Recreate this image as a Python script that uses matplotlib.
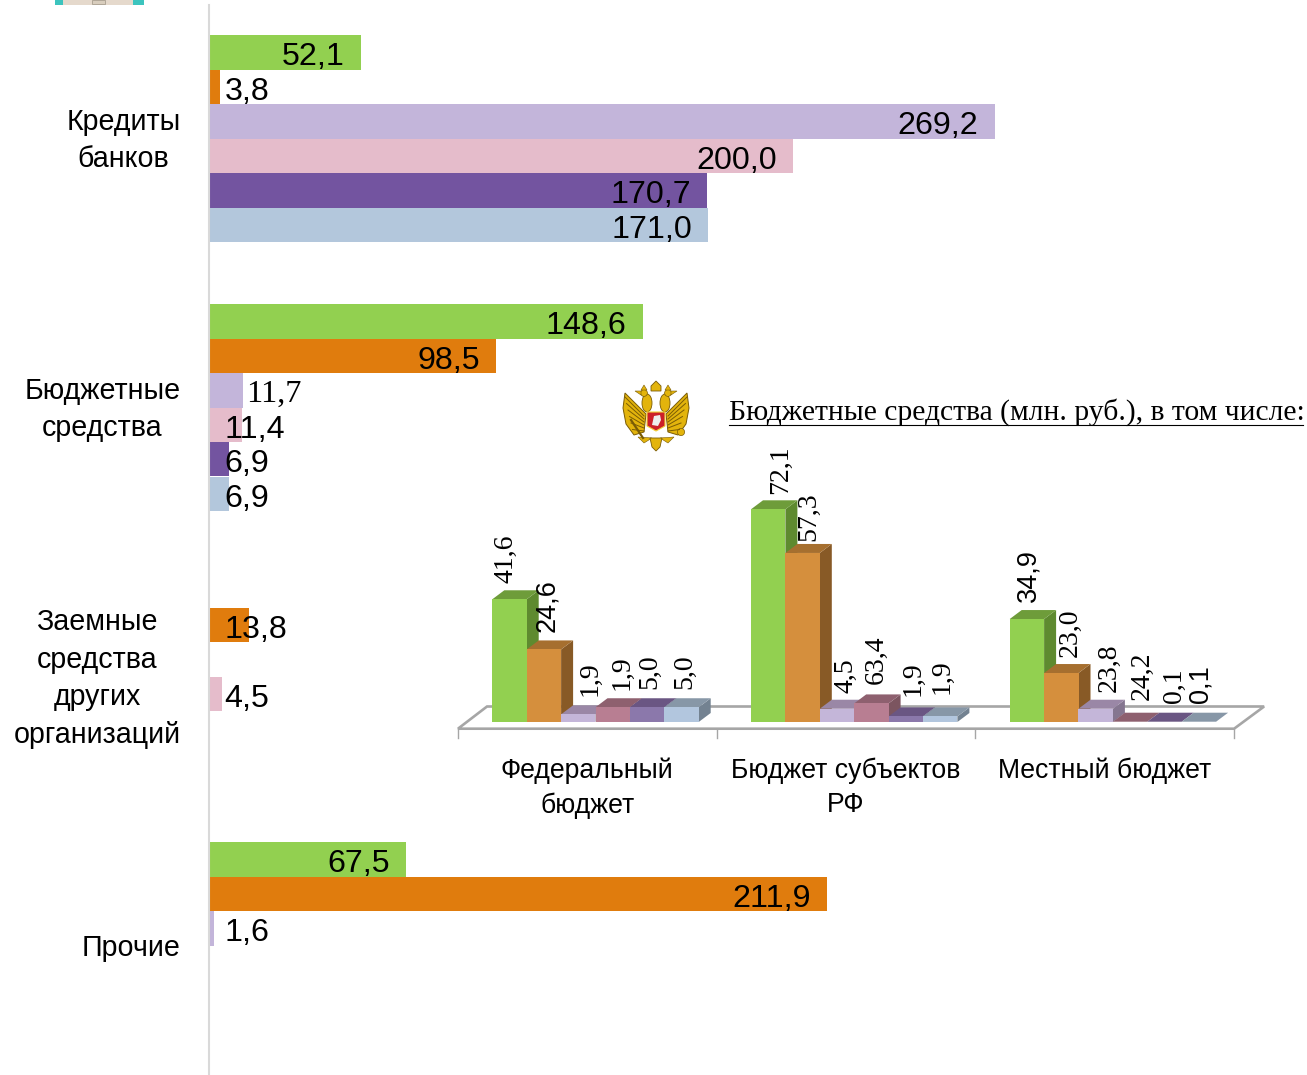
import numpy as np
import matplotlib
matplotlib.use("Agg")
import matplotlib.pyplot as plt
from matplotlib.patches import Polygon, Rectangle, Circle, Ellipse
from matplotlib.transforms import ScaledTranslation

W, H = 1307, 1075
SANS = "Liberation Sans"
SERIF = "Liberation Serif"

# ---------- main horizontal chart data ----------
categories = ["Кредиты\nбанков", "Бюджетные\nсредства", "Заемные\nсредства\nдругих\nорганизаций", "Прочие"]
nan = float("nan")
series_1 = [52.1, 148.6, nan, 67.5]
series_2 = [3.8, 98.5, 13.8, 211.9]
series_3 = [269.2, 11.7, nan, 1.6]
series_4 = [200.0, 11.4, 4.5, nan]
series_5 = [170.7, 6.9, nan, nan]
series_6 = [171.0, 6.9, nan, nan]
main_series = [series_1, series_2, series_3, series_4, series_5, series_6]
main_colors = ["#92D050", "#E07C0D", "#C3B5DA", "#E5BCCB", "#7354A0", "#B3C7DC"]

# ---------- inset 3D chart data ----------
inset_categories = ["Федеральный\nбюджет", "Бюджет субъектов\nРФ", "Местный бюджет"]
inset_heights = [
    [41.6, 24.6, 2.6, 5.0, 5.0, 5.0],
    [72.1, 57.3, 4.5, 6.3, 1.9, 1.9],
    [34.9, 16.6, 4.5, 0.1, 0.1, 0.1],
]
inset_labels = [
    ["41,6", "24,6", "1,9", "1,9", "5,0", "5,0"],
    ["72,1", "57,3", "4,5", "63,4", "1,9", "1,9"],
    ["34,9", "23,0", "23,8", "24,2", "0,1", "0,1"],
]
inset_label_fonts = [
    [SERIF, SANS, SERIF, SERIF, SERIF, SERIF],
    [SERIF, SERIF, SERIF, SERIF, SERIF, SERIF],
    [SANS, SERIF, SERIF, SERIF, SERIF, SANS],
]
inset_label_offsets = [
    [(-3.5, 16), (3, 17), (12, 18), (9, 17), (3, 18), (3, 18)],
    [(12, 15), (6, 12), (9, 16), (5, 19), (7, 20), (2, 22)],
    [(2, 17), (8.5, 16), (13, 17), (12, 22), (10, 19), (2, 19)],
]
front_colors = ["#92D050", "#D58F3D", "#C4B6D9", "#B87E92", "#8B78AB", "#B2C6DE"]
top_colors = ["#6E9C3A", "#A66F2F", "#9A87A6", "#8E606F", "#6A5683", "#8797A7"]
side_colors = ["#5E8A2F", "#885A26", "#857690", "#7C5560", "#5C4A72", "#738291"]

fig = plt.figure(figsize=(W / 100, H / 100), dpi=100, facecolor="white")


def axes_px(x0, y0, x1, y1):
    return fig.add_axes([x0 / W, 1 - y1 / H, (x1 - x0) / W, (y1 - y0) / H])


# ---------- main axes ----------
ax = axes_px(209, 5, W, H)
ax.set_facecolor("none")
PX_PER_UNIT = 2.918
PX_PER_GROUP = 269.0
ax.set_xlim(0, (W - 209) / PX_PER_UNIT)
ax.set_ylim((1075 - 138.6) / PX_PER_GROUP, (5 - 138.6) / PX_PER_GROUP)
bar_h = 34.45 / PX_PER_GROUP
for j, (vals, col) in enumerate(zip(main_series, main_colors)):
    ys = np.arange(len(categories)) + (j - 2.5) * bar_h
    ax.barh(ys, vals, height=bar_h, color=col, linewidth=0)
    for y, v in zip(ys, vals):
        if np.isnan(v):
            continue
        txt = f"{v:.1f}".replace(".", ",")
        if v >= 50:
            ax.annotate(txt, (v, y), xytext=(-16, -5), textcoords="offset pixels",
                        ha="right", va="center", fontsize=23.2, family=SANS, color="black")
        elif j == 2 and txt == "11,7":
            ax.annotate(txt, (v, y), xytext=(3, -4), textcoords="offset pixels",
                        ha="left", va="center", fontsize=23.2, family=SERIF, color="black")
        else:
            ax.annotate(txt, (0, y), xytext=(15.5, -5), textcoords="offset pixels",
                        ha="left", va="center", fontsize=23.2, family=SANS, color="black")
ax.set_yticks(range(len(categories)))
ax.set_yticklabels(categories, fontsize=20.6, family=SANS, color="black", linespacing=1.43)
ax.set_xticks([])
ax.tick_params(axis="y", length=0, pad=20.5)
label_shifts_px = [6, 6, 6, 1]
for t, shift in zip(ax.get_yticklabels(), label_shifts_px):
    t.set_multialignment("center")
    t.set_transform(t.get_transform() + ScaledTranslation(0, shift / 100, fig.dpi_scale_trans))
for s in ["top", "right", "bottom"]:
    ax.spines[s].set_visible(False)
ax.spines["left"].set_color("#D9D9D9")
ax.spines["left"].set_linewidth(1.5)

# ---------- inset 3D axes ----------
BASE_Y = 722
PX_PER_VAL = 2.95
CAT_W = 258.7
iax = axes_px(458, BASE_Y - 80 * PX_PER_VAL, 458 + 3 * CAT_W, BASE_Y)
iax.set_facecolor("none")
iax.set_xlim(0, 3)
iax.set_ylim(0, 80)
iax.axis("off")
u_x = 1 / CAT_W   # one pixel in x data units
u_y = 1 / PX_PER_VAL
ddx, ddy = 12 * u_x, 9 * u_y
bw = 34.4 * u_x
# floor
fy = -6.7 * u_y
back = 15.5 * u_y
floor = [(0, fy), (3, fy), (3 + 30 * u_x, back), (29 * u_x, back)]
iax.add_patch(Polygon(floor, closed=True, facecolor="white", edgecolor="#A6A6A6",
                      linewidth=1.9, clip_on=False, zorder=1))
for k in range(4):
    iax.plot([k, k], [fy, fy - 9.5 * u_y], color="#A6A6A6", lw=1.0, clip_on=False, zorder=1)

start = (492.3 - 458) * u_x
z = 2
for g in range(3):
    for s in range(6):
        h = inset_heights[g][s]
        x0 = g + start + s * bw
        x1 = x0 + bw
        if h > 0.5:
            iax.add_patch(Polygon([(x1, 0), (x1 + ddx, ddy), (x1 + ddx, h + ddy), (x1, h)],
                                  facecolor=side_colors[s], edgecolor="none", clip_on=False, zorder=z))
        iax.add_patch(Polygon([(x0, h), (x1, h), (x1 + ddx, h + ddy), (x0 + ddx, h + ddy)],
                              facecolor=top_colors[s], edgecolor="none", clip_on=False, zorder=z))
        iax.bar(x0 + bw / 2, h, width=bw, color=front_colors[s], linewidth=0, clip_on=False, zorder=z + 0.5)
        z += 1
for g in range(3):
    for s in range(6):
        x = g + start + (s + 0.5) * bw
        dx, dy = inset_label_offsets[g][s]
        font = inset_label_fonts[g][s]
        iax.annotate(inset_labels[g][s], (x, inset_heights[g][s]), xytext=(dx, dy),
                     textcoords="offset pixels", rotation=90, ha="center", va="bottom",
                     fontsize=20 if font == SERIF else 19.5, family=font, color="black",
                     annotation_clip=False, zorder=200)
for g, name in enumerate(inset_categories):
    iax.annotate(name, (g + 0.5, 0), xytext=(0, -36), textcoords="offset pixels",
                 ha="center", va="top", fontsize=19.2, family=SANS, color="black",
                 linespacing=1.4, annotation_clip=False, zorder=200)

# ---------- overlay: title, emblem, cropped picture at top ----------
ov = axes_px(0, 0, W, H)
ov.set_xlim(0, W)
ov.set_ylim(H, 0)
ov.axis("off")
ov.set_facecolor("none")
ov.text(729, 420, "Бюджетные средства (млн. руб.), в том числе:", family=SERIF, fontsize=21.3,
        ha="left", va="baseline", color="black")
ov.plot([729, 1303], [424.5, 424.5], color="black", lw=0.8)

# fragment of a picture cut by the top edge
ov.add_patch(Rectangle((55, 0), 89, 4.5, facecolor="#E5D9CC", edgecolor="none"))
ov.add_patch(Rectangle((55, 0), 8, 4.5, facecolor="#3CC4BE", edgecolor="none"))
ov.add_patch(Rectangle((133, 0), 11, 4.5, facecolor="#3CC4BE", edgecolor="none"))
ov.add_patch(Rectangle((92, 0), 13, 4, facecolor="#D8CDBD", edgecolor="#A99F90", lw=0.6))

# coat of arms (simplified)
GOLD, DARK = "#E3B40C", "#7A5C05"
for sign in (-1, 1):
    wing = [(656 + sign * 10, 414), (656 + sign * 31, 393), (656 + sign * 33, 408),
            (656 + sign * 30, 424), (656 + sign * 22, 435), (656 + sign * 12, 432)]
    ov.add_patch(Polygon(wing, facecolor=GOLD, edgecolor=DARK, lw=0.7))
    for k in range(6):
        ov.plot([656 + sign * 12, 656 + sign * (31 - k * 1.5)],
                [416 + k * 3, 397 + k * 6.5], color=DARK, lw=0.7)
    ov.add_patch(Ellipse((656 + sign * 9, 403), 10, 18, facecolor=GOLD, edgecolor=DARK, lw=0.6))
    ov.add_patch(Circle((656 + sign * 12, 393), 3.4, facecolor=GOLD, edgecolor=DARK, lw=0.5))
    ov.add_patch(Polygon([(656 + sign * 15, 391), (656 + sign * 21, 391), (656 + sign * 15, 395)],
                         facecolor=GOLD, edgecolor=DARK, lw=0.4))
    ov.add_patch(Polygon([(656 + sign * 9, 390), (656 + sign * 15, 390), (656 + sign * 12, 385)],
                         facecolor=GOLD, edgecolor=DARK, lw=0.4))
    ov.add_patch(Polygon([(656 + sign * 4, 438), (656 + sign * 18, 437), (656 + sign * 12, 443)],
                         facecolor=GOLD, edgecolor=DARK, lw=0.4))
ov.add_patch(Polygon([(651, 391), (661, 391), (661, 386), (658, 383), (656, 381), (654, 383), (651, 386)],
                     facecolor=GOLD, edgecolor=DARK, lw=0.6))
ov.plot([631, 643], [420, 438], color=DARK, lw=1.6)
ov.add_patch(Circle((681, 432), 3.6, facecolor=GOLD, edgecolor=DARK, lw=0.5))
ov.add_patch(Polygon([(650, 438), (662, 438), (660, 447), (656, 451), (652, 447)],
                     facecolor=GOLD, edgecolor=DARK, lw=0.6))
ov.add_patch(Polygon([(647, 412), (665, 412), (665, 426), (656, 431), (647, 426)],
                     facecolor="#CC1F28", edgecolor="#F3D33A", lw=0.8))
ov.add_patch(Polygon([(652, 425), (654, 416), (660, 415), (661, 420), (658, 426)],
                     facecolor="#EDEDED", edgecolor="none"))

fig.savefig("out.png", dpi=100, facecolor="white")
